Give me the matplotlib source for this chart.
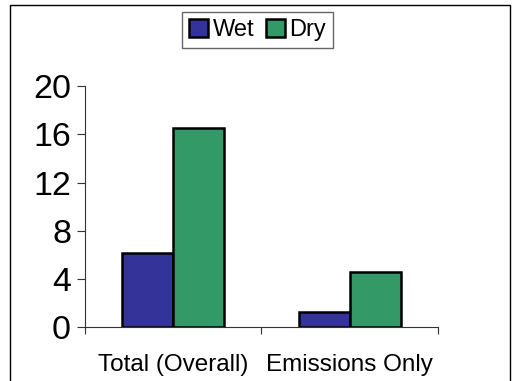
import matplotlib
matplotlib.use('Agg')
import matplotlib.pyplot as plt
from matplotlib.patches import Rectangle
import numpy as np

plt.rcParams['font.family'] = ['Liberation Sans', 'DejaVu Sans']

# Data
categories = ['Total (Overall)', 'Emissions Only']
wet = [6.2, 1.3]
dry = [16.5, 4.6]

fig = plt.figure(figsize=(5.16, 3.81), dpi=100)
ax = fig.add_axes([0.1647, 0.141, 0.684, 0.633])

x = np.arange(len(categories))
w = 0.288
ax.bar(x - w / 2, wet, w, color='#333399', edgecolor='black', linewidth=1.8, label='Wet')
ax.bar(x + w / 2, dry, w, color='#339966', edgecolor='black', linewidth=1.8, label='Dry')

ax.set_xlim(-0.5, 1.5)
ax.set_ylim(0, 20)
ax.set_yticks([0, 4, 8, 12, 16, 20])

# category boundaries as major ticks, names as minor ticks
ax.set_xticks([-0.5, 0.5, 1.5])
ax.set_xticklabels([])
ax.set_xticks(x, minor=True)
ax.set_xticklabels(categories, minor=True, fontsize=17.5)
ax.tick_params(axis='x', which='major', direction='out', length=5, width=0.8, color='#333333')
ax.tick_params(axis='x', which='minor', length=0, pad=19)
ax.tick_params(axis='y', direction='out', length=6, width=0.8, color='#333333', labelsize=24.5, pad=4)

for s in ['top', 'right']:
    ax.spines[s].set_visible(False)
for s in ['left', 'bottom']:
    ax.spines[s].set_linewidth(0.8)
    ax.spines[s].set_color('#333333')

leg = fig.legend(loc='center', bbox_to_anchor=(0.499, 0.921), ncol=2, fontsize=17,
                 handlelength=0.8, handleheight=0.8, handletextpad=0.2, columnspacing=0.5,
                 borderpad=0.3, fancybox=False, framealpha=1, borderaxespad=0)
leg.get_frame().set_edgecolor('#666666')
leg.get_frame().set_linewidth(1.0)

# outer chart frame
fig.add_artist(Rectangle((10 / 516, -0.1), 500 / 516, 0.1 + 376 / 381,
                         transform=fig.transFigure, fill=False, edgecolor='black',
                         linewidth=1.0, clip_on=False))

fig.savefig('out.png', dpi=100)
